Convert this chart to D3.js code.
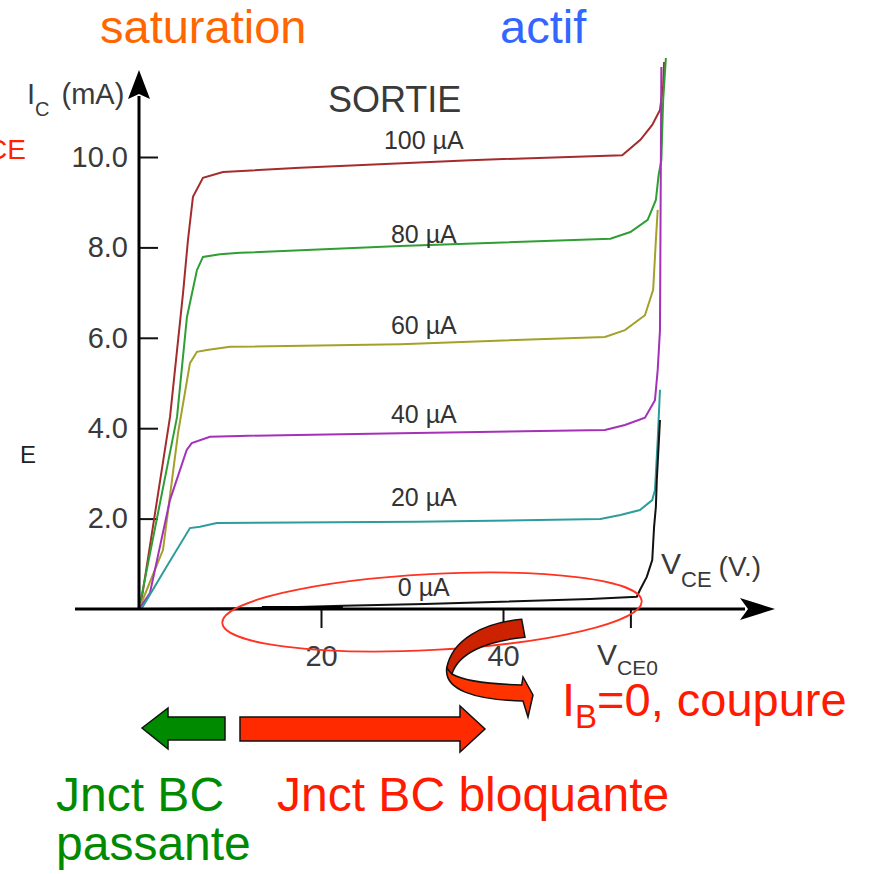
<!DOCTYPE html>
<html>
<head>
<meta charset="utf-8">
<script src="https://cdn.jsdelivr.net/npm/d3@7"></script>
<style>
  body { margin: 0; background: #fff; }
  text { font-family: "Liberation Sans", Arial, sans-serif; }
</style>
</head>
<body>
<div id="chart"></div>
<script>
// base current of each curve
var ibLabels = ["100 µA", "80 µA", "60 µA", "40 µA", "20 µA", "0 µA"];

// VCE (V) and IC (mA)
var vce100 = [0, 0.33, 3.41, 4.84, 5.38, 5.93, 7.03, 9.23, 17.7, 36.4, 53.1, 55.1, 56.4, 57.25, 57.6, 57.7];
var ic100  = [0, 0.27, 4.25, 6.99, 8.16, 9.12, 9.54, 9.67, 9.76, 9.93, 10.04, 10.38, 10.71, 11.04, 11.59, 12.1];
var vce80 = [0, 4.18, 5.27, 6.37, 7.03, 8.9, 11.1, 28.7, 51.8, 54.0, 55.9, 56.8, 57.1, 57.4, 57.6, 57.9];
var ic80  = [0, 4.25, 6.46, 7.5, 7.79, 7.85, 7.88, 8.03, 8.19, 8.34, 8.61, 9.05, 9.6, 9.93, 11.26, 12.19];
var vce60 = [0, 2.64, 4.29, 5.6, 6.37, 7.47, 10.0, 28.7, 51.2, 53.4, 55.6, 56.5, 56.8, 57.0];
var ic60  = [0, 1.31, 3.89, 5.44, 5.69, 5.73, 5.8, 5.86, 6.02, 6.17, 6.5, 7.06, 8.16, 8.83];
var vce40 = [0, 1.2, 3.4, 5.24, 5.8, 7.8, 11.1, 28.7, 51.2, 53.4, 55.6, 56.7, 57.0, 57.25, 57.4];
var ic40  = [0, 0.35, 2.41, 3.52, 3.67, 3.81, 3.83, 3.89, 3.96, 4.07, 4.23, 4.62, 5.29, 6.17, 11.99];
var vce20 = [0, 0.29, 3.04, 5.6, 6.7, 8.54, 30.5, 50.7, 52.9, 55.05, 56.4, 56.7, 57.0, 57.25];
var ic20  = [0, 0.01, 0.94, 1.79, 1.82, 1.9, 1.93, 1.99, 2.08, 2.19, 2.41, 2.63, 3.74, 4.85];
var vce0 = [0, 13.5, 22.4, 31.4, 49.6, 54.7, 55.05, 55.8, 56.4, 56.6, 56.8, 56.9, 57.25];
var ic0  = [0, 0.02, 0.07, 0.11, 0.22, 0.27, 0.42, 0.71, 1.08, 1.81, 2.26, 2.85, 4.18];

// axis ticks
var yTicks = [2, 4, 6, 8, 10];
var yTickLabels = ["2.0", "4.0", "6.0", "8.0", "10.0"];
var xTicks = [20, 40];
var xTickLabels = ["20", "40"];
var vce0Tick = 54;

// styles
var curveColors = ["#a42c2c", "#2f9e34", "#a3a12a", "#a332b8", "#2f9c9c", "#111"];
var labelDy = [-11, -3, -10, -10, -16, -8];

var svgWidth = 869;
var svgHeight = 874;

var svg = d3.select("#chart")
    .append("svg")
    .attr("width", svgWidth)
    .attr("height", svgHeight);

svg.append("rect")
    .attr("width", svgWidth)
    .attr("height", svgHeight)
    .attr("fill", "#fff");

var x = d3.scaleLinear().domain([0, 60]).range([139, 685]);
var y = d3.scaleLinear().domain([0, 12]).range([609, 66.6]);

var curves = [
    d3.zip(vce100, ic100),
    d3.zip(vce80, ic80),
    d3.zip(vce60, ic60),
    d3.zip(vce40, ic40),
    d3.zip(vce20, ic20),
    d3.zip(vce0, ic0)
];

// y axis, ticks inside, labels left
var yAxis = d3.axisLeft(y)
    .tickValues(yTicks)
    .tickFormat((d, i) => yTickLabels[i])
    .tickSizeInner(-19)
    .tickSizeOuter(0)
    .tickPadding(11);

var yAxisG = svg.append("g")
    .attr("transform", `translate(${x(0)},0)`)
    .call(yAxis);
yAxisG.select(".domain").remove();
yAxisG.selectAll(".tick line").attr("stroke", "#111").attr("stroke-width", 2);
yAxisG.selectAll(".tick text")
    .attr("font-size", 29)
    .attr("font-family", "Liberation Sans, Arial, sans-serif")
    .attr("fill", "#3a3a3a");

// x axis
var xAxis = d3.axisBottom(x)
    .tickValues(xTicks.concat([vce0Tick]))
    .tickFormat(d => {
        var i = xTicks.indexOf(d);
        return i < 0 ? "" : xTickLabels[i];
    })
    .tickSizeInner(19)
    .tickSizeOuter(0)
    .tickPadding(17);

var xAxisG = svg.append("g")
    .attr("transform", `translate(0,${y(0)})`)
    .call(xAxis);
xAxisG.select(".domain").remove();
xAxisG.selectAll(".tick line").attr("stroke", "#111").attr("stroke-width", 2);
xAxisG.selectAll(".tick text")
    .attr("font-size", 29)
    .attr("font-family", "Liberation Sans, Arial, sans-serif")
    .attr("fill", "#3a3a3a");

// curves
var line = d3.line()
    .x(d => x(d[0]))
    .y(d => y(d[1]));

svg.append("g")
    .selectAll("path")
    .data(curves)
    .enter()
    .append("path")
    .attr("d", line)
    .attr("fill", "none")
    .attr("stroke", (d, i) => curveColors[i])
    .attr("stroke-width", 2);

// thick part of the 0 µA curve lying on the axis
svg.append("line")
    .attr("x1", x(vce0[1]))
    .attr("x2", x(vce0[2]))
    .attr("y1", y(0) - 1.5)
    .attr("y2", y(0) - 1.5)
    .attr("stroke", "#000")
    .attr("stroke-width", 3);

// main axis lines with arrows
svg.append("line")
    .attr("x1", x(0)).attr("x2", x(0))
    .attr("y1", y(0)).attr("y2", 96)
    .attr("stroke", "#000").attr("stroke-width", 3);
svg.append("path")
    .attr("d", `M${x(0)},70 L${x(0) + 11},99 L${x(0)},94 L${x(0) - 11},99 Z`)
    .attr("fill", "#000");

svg.append("line")
    .attr("x1", 75).attr("x2", 745)
    .attr("y1", y(0)).attr("y2", y(0))
    .attr("stroke", "#000").attr("stroke-width", 3);
svg.append("path")
    .attr("d", `M775,${y(0)} L740,${y(0) - 11} L748,${y(0)} L740,${y(0) + 11} Z`)
    .attr("fill", "#000");

// curve labels
svg.append("g")
    .selectAll("text")
    .data(curves)
    .enter()
    .append("text")
    .attr("x", x(31.3))
    .attr("y", (d, i) => y(d3.least(d, p => Math.abs(p[0] - 30))[1]) + labelDy[i])
    .attr("text-anchor", "middle")
    .attr("font-size", 25)
    .attr("fill", "#333")
    .text((d, i) => ibLabels[i]);

// axis titles
var ylab = svg.append("text")
    .attr("x", 27)
    .attr("y", 104)
    .attr("font-size", 29)
    .attr("fill", "#3a3a3a");
ylab.append("tspan").text("I");
ylab.append("tspan").attr("dy", 12).attr("font-size", 20).text("C");
ylab.append("tspan").attr("dy", -12).attr("dx", 12).text("(mA)");

var xlab = svg.append("text")
    .attr("x", 661)
    .attr("y", 574)
    .attr("font-size", 30)
    .attr("fill", "#3a3a3a");
xlab.append("tspan").text("V");
xlab.append("tspan").attr("dy", 13).attr("font-size", 22).text("CE");
xlab.append("tspan").attr("dy", -11).attr("dx", 7).attr("font-size", 28).text("(V.)");

var vlab = svg.append("text")
    .attr("x", 597)
    .attr("y", 665)
    .attr("font-size", 30)
    .attr("fill", "#3a3a3a");
vlab.append("tspan").text("V");
vlab.append("tspan").attr("dy", 10).attr("font-size", 21).text("CE0");

svg.append("text")
    .attr("x", 328)
    .attr("y", 112)
    .attr("font-size", 36)
    .attr("fill", "#3a3a3a")
    .text("SORTIE");

// region titles
svg.append("text")
    .attr("x", 100).attr("y", 43)
    .attr("font-size", 47)
    .attr("fill", "#ff6600")
    .text("saturation");
svg.append("text")
    .attr("x", 500).attr("y", 43)
    .attr("font-size", 47)
    .attr("fill", "#3366ff")
    .text("actif");

// cut-off leftovers on the left edge
svg.append("text")
    .attr("x", 26).attr("y", 159)
    .attr("text-anchor", "end")
    .attr("font-size", 28)
    .attr("fill", "#ff2200")
    .text("CE");
svg.append("text")
    .attr("x", 20).attr("y", 463)
    .attr("font-size", 24)
    .attr("fill", "#222")
    .text("E");

// ellipse around the cut-off region
svg.append("ellipse")
    .attr("cx", 432).attr("cy", 612)
    .attr("rx", 210).attr("ry", 38)
    .attr("transform", "rotate(-3 432 612)")
    .attr("fill", "none")
    .attr("stroke", "#ff3322")
    .attr("stroke-width", 1.8);

// curved ribbon arrow
svg.append("path")
    .attr("d", "M446.7,668 C444,690 475,700 523,701 L528,717 L533,695 L523,677 L521.7,685 C485,684 462,680 452,674 Z")
    .attr("fill", "#ff3300")
    .attr("stroke", "#111")
    .attr("stroke-width", 1.5);
svg.append("path")
    .attr("d", "M521.7,619.3 C482,623 452,640 446.7,668 L452,674 C458,654 485,641 525,637.3 Z")
    .attr("fill", "#cc2200")
    .attr("stroke", "#111")
    .attr("stroke-width", 1.5);

var ib = svg.append("text")
    .attr("x", 562).attr("y", 716)
    .attr("font-size", 47)
    .attr("fill", "#ff1a00");
ib.append("tspan").text("I");
ib.append("tspan").attr("dy", 12).attr("font-size", 33).text("B");
ib.append("tspan").attr("dy", -12).text("=0, coupure");

// junction arrows
svg.append("path")
    .attr("d", "M142,728 L168,708 L168,717 L225,717 L225,740 L168,740 L168,749 Z")
    .attr("fill", "#008a00")
    .attr("stroke", "#111")
    .attr("stroke-width", 1.5);
svg.append("path")
    .attr("d", "M240,717 L460,717 L460,706 L485,729 L460,752 L460,741 L240,741 Z")
    .attr("fill", "#ff2a00")
    .attr("stroke", "#111")
    .attr("stroke-width", 1.5);

svg.append("text")
    .attr("x", 56).attr("y", 811)
    .attr("font-size", 48)
    .attr("fill", "#008a00")
    .text("Jnct BC");
svg.append("text")
    .attr("x", 56).attr("y", 860)
    .attr("font-size", 48)
    .attr("fill", "#008a00")
    .text("passante");
svg.append("text")
    .attr("x", 277).attr("y", 811)
    .attr("font-size", 48)
    .attr("fill", "#ff1a00")
    .text("Jnct BC bloquante");
</script>
</body>
</html>
